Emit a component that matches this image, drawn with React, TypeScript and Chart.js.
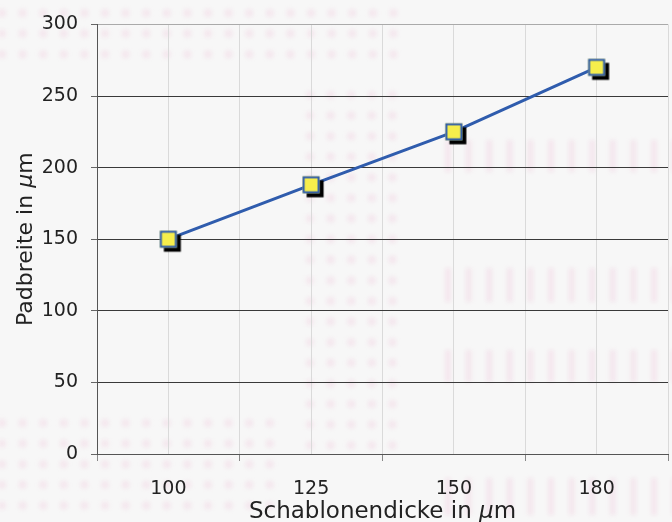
import React, { useEffect, useRef } from "react";
import { Chart, registerables } from "chart.js";

Chart.register(...registerables);

// ---- data ----
const categories: string[] = ["100", "125", "150", "180"];
const padbreite: number[] = [150, 188, 225, 270];
const yMin = 0;
const yMax = 300;
const yStep = 50;
const xTitleParts: string[] = ["Schablonendicke in ", "μ", "m"];
const yTitleParts: string[] = ["Padbreite in ", "μ", "m"];

const FONT = '"DejaVu Sans", sans-serif';
const TEXT = "#222222";

function makeMarker(): HTMLCanvasElement {
  const c = document.createElement("canvas");
  c.width = 34;
  c.height = 34;
  const g = c.getContext("2d")!;
  const s = 17;
  const o = (34 - s) / 2;
  g.fillStyle = "#000000";
  g.fillRect(o + 4, o + 4, s, s);
  g.fillStyle = "#F6EE4C";
  g.fillRect(o, o, s, s);
  g.strokeStyle = "#2F5CAD";
  g.lineWidth = 2;
  g.strokeRect(o + 1, o + 1, s - 2, s - 2);
  return c;
}

const bgPattern = {
  id: "bgPattern",
  beforeDraw(chart: any) {
    const { ctx, width, height } = chart;
    ctx.save();
    ctx.fillStyle = "#F7F7F7";
    ctx.fillRect(0, 0, width, height);
    ctx.filter = "blur(2px)";
    ctx.fillStyle = "rgba(240, 195, 218, 0.32)";
    const step = 20.6;
    const dots = (x0: number, x1: number, y0: number, y1: number) => {
      for (let y = y0; y <= y1 + 0.1; y += step) {
        for (let x = x0; x <= x1 + 0.1; x += step) {
          ctx.beginPath();
          ctx.arc(x, y, 4, 0, Math.PI * 2);
          ctx.fill();
        }
      }
    };
    const dashes = (x0: number, x1: number, y0: number, y1: number) => {
      for (let x = x0; x <= x1 + 10; x += step) {
        ctx.fillRect(x - 3, y0, 6, y1 - y0);
      }
    };
    dots(2, 394, 13, 74);
    dots(310, 394, 95, 465);
    dots(2, 290, 423, 507);
    dashes(448, 672, 140, 172);
    dashes(448, 672, 268, 302);
    dashes(448, 672, 350, 382);
    dashes(448, 672, 478, 515);
    ctx.restore();
  },
};

const axisTitles = {
  id: "axisTitles",
  afterDraw(chart: any) {
    const { ctx, chartArea } = chart;
    const drawParts = (parts: string[], size: number) => {
      const fonts = parts.map((p) =>
        p === "μ" ? `italic ${size}px ${FONT}` : `${size}px ${FONT}`
      );
      let total = 0;
      const widths = parts.map((p, i) => {
        ctx.font = fonts[i];
        const w = ctx.measureText(p).width;
        total += w;
        return w;
      });
      let x = -total / 2;
      parts.forEach((p, i) => {
        ctx.font = fonts[i];
        ctx.fillText(p, x, 0);
        x += widths[i];
      });
    };
    ctx.save();
    ctx.fillStyle = TEXT;
    ctx.textBaseline = "alphabetic";
    ctx.textAlign = "left";
    ctx.save();
    ctx.translate((chartArea.left + chartArea.right) / 2, 518);
    drawParts(xTitleParts, 23);
    ctx.restore();
    ctx.save();
    ctx.translate(32, (chartArea.top + chartArea.bottom) / 2);
    ctx.rotate(-Math.PI / 2);
    drawParts(yTitleParts, 22);
    ctx.restore();
    ctx.restore();
  },
};

export default function App() {
  const ref = useRef<HTMLCanvasElement>(null);

  useEffect(() => {
    const canvas = ref.current!;
    const marker = makeMarker();
    const chart = new Chart(canvas, {
      type: "line",
      data: {
        labels: categories,
        datasets: [
          {
            data: padbreite,
            borderColor: "#2F5CAD",
            borderWidth: 3,
            tension: 0,
            fill: false,
            pointStyle: marker as any,
            pointRadius: 9,
            pointHoverRadius: 9,
          },
        ],
      },
      options: {
        animation: false,
        responsive: false,
        maintainAspectRatio: false,
        layout: { padding: { top: 22, right: 4, left: 0, bottom: 0 } },
        plugins: {
          legend: { display: false },
          tooltip: { enabled: false },
          title: { display: false },
        },
        scales: {
          x: {
            type: "category",
            offset: true,
            grid: {
              offset: true,
              color: (c: any) => (c.index === 0 ? "#555555" : "#DADADA"),
              lineWidth: 1,
              drawTicks: true,
              tickLength: 7,
              tickColor: "#888888",
            },
            border: { color: "#555555", width: 1 },
            ticks: {
              font: { family: FONT, size: 19 },
              color: TEXT,
              padding: 17,
              maxRotation: 0,
              autoSkip: false,
            },
            afterFit: (s: any) => {
              s.height = 68;
              s.paddingLeft = 0;
              s.paddingRight = 0;
            },
          },
          x2: {
            type: "category",
            position: "bottom",
            offset: true,
            grid: { offset: false, color: "#DADADA", drawTicks: false, lineWidth: 1 },
            border: { display: false },
            ticks: { display: false },
            afterFit: (s: any) => {
              s.height = 0;
              s.paddingLeft = 0;
              s.paddingRight = 0;
            },
          },
          y: {
            min: yMin,
            max: yMax,
            ticks: {
              stepSize: yStep,
              font: { family: FONT, size: 19 },
              color: TEXT,
              padding: 13,
            },
            grid: {
              color: (c: any) =>
                c.tick && c.tick.value === yMax
                  ? "#AAAAAA"
                  : c.tick && c.tick.value === yMin
                  ? "#555555"
                  : "#3A3A3A",
              lineWidth: 1,
              drawTicks: true,
              tickLength: 6,
              tickColor: "#666666",
            },
            border: { color: "#555555", width: 1 },
            afterFit: (s: any) => {
              s.width = 97;
            },
          },
        },
      } as any,
      plugins: [bgPattern, axisTitles],
    });
    return () => chart.destroy();
  }, []);

  return (
    <div
      style={{
        position: "fixed",
        left: 0,
        top: 0,
        width: 672,
        height: 522,
        overflow: "hidden",
        background: "#F7F7F7",
      }}
    >
      <canvas ref={ref} width={680} height={522} style={{ display: "block" }} />
    </div>
  );
}
